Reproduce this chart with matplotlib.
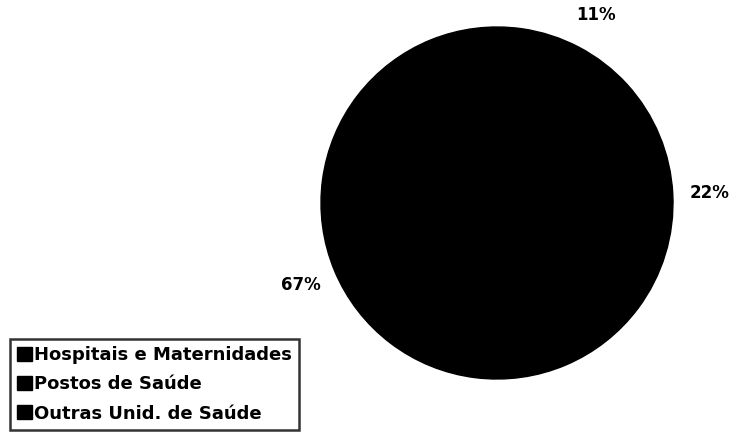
import numpy as np
import matplotlib.pyplot as plt

# data
categories = ['Hospitais e Maternidades', 'Postos de Saúde', 'Outras Unid. de Saúde']
shares = [11, 22, 67]

plt.rcParams['font.family'] = ['DejaVu Sans']
plt.rcParams['font.weight'] = 'bold'

W, H = 733, 436
fig = plt.figure(figsize=(W / 100, H / 100), dpi=100)

# pie: centre around (497, 203) px from top, radius ~176 px
r = 176
cx, cy = 497, H - 203
ax = fig.add_axes([(cx - r) / W, (cy - r) / H, 2 * r / W, 2 * r / H])
wedges, texts, autotexts = ax.pie(shares, colors=['black'] * 3, startangle=82,
                                  counterclock=False, autopct='%1.0f%%',
                                  pctdistance=1.21, radius=1,
                                  wedgeprops={'linewidth': 1.0, 'edgecolor': 'black'})
for t in autotexts:
    t.set_color('black')
    t.set_fontsize(12)
    t.set_fontweight('bold')
ax.set_xlim(-1, 1)
ax.set_ylim(-1, 1)
ax.set_aspect('equal')
ax.axis('off')

leg = fig.legend(wedges, categories, loc='upper left',
                 bbox_to_anchor=(10 / W, 1 - 339 / H),
                 fontsize=13, frameon=True, fancybox=False,
                 handlelength=0.8, handleheight=0.8, handletextpad=0.15,
                 labelspacing=0.62, borderpad=0.4, borderaxespad=0)
leg.get_frame().set_edgecolor('black')
leg.get_frame().set_linewidth(1.8)
for t in leg.get_texts():
    t.set_fontweight('bold')

plt.savefig('out.png', dpi=100)
